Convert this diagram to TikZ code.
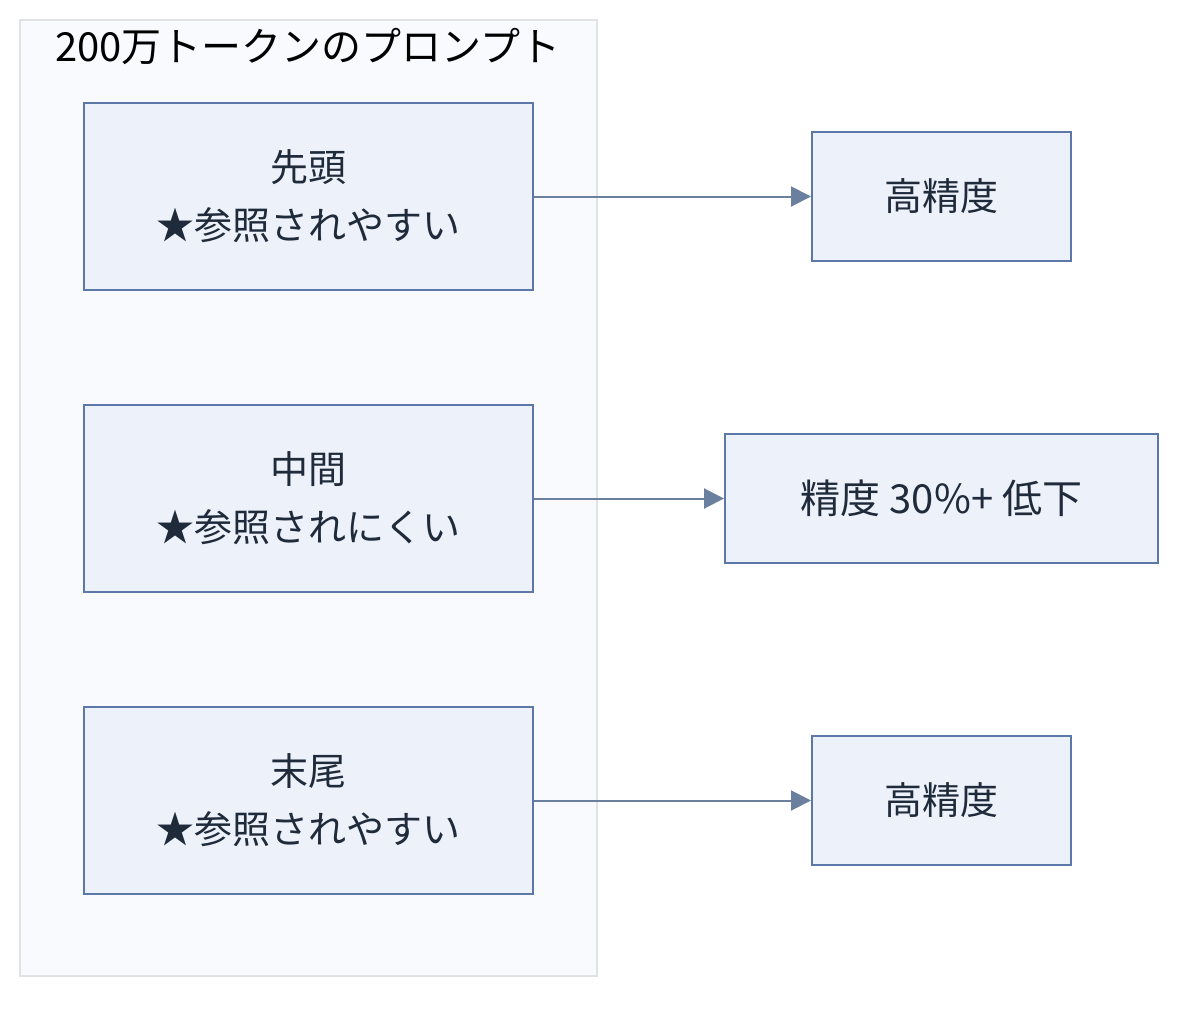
\documentclass[tikz,border=0pt]{standalone}
\usepackage{fontspec}
\setmainfont{Noto Sans CJK JP}
\usetikzlibrary{positioning,arrows.meta}

\definecolor{boxfill}{HTML}{EDF2FA}
\definecolor{boxline}{HTML}{5B78A8}
\definecolor{arrowline}{HTML}{6B7F9E}
\definecolor{clusterfill}{HTML}{F8FAFD}
\definecolor{clusterline}{HTML}{E0E2E6}
\definecolor{textdark}{HTML}{1F2A3A}

\tikzset{
  part/.style={draw=boxline, fill=boxfill, line width=1pt, align=center,
    minimum width=224.5pt, minimum height=93.5pt, text=textdark,
    font=\fontsize{19}{29}\selectfont, inner sep=0pt},
  result/.style={draw=boxline, fill=boxfill, line width=1pt,
    minimum width=129.5pt, minimum height=64.5pt, text=textdark,
    font=\fontsize{19}{24}\selectfont, inner sep=0pt},
  link/.style={draw=arrowline, line width=1pt, -{Triangle[length=10pt,width=10pt]}},
}

\begin{document}
\begin{tikzpicture}[x=0.5pt, y=-0.5pt, node distance=56.5pt]
  \useasboundingbox (0,0) rectangle (1200,1013);
  % prompt cluster
  \draw[fill=clusterfill, draw=clusterline, line width=1pt] (20,20) rectangle (597,976);
  \node[font=\fontsize{20}{24}\selectfont] (title) at (308,47) {200万トークンのプロンプト};

  \node[part] (head) at (308.5,196.5) {先頭\\★参照されやすい};
  \node[part, below=of head] (middle) {中間\\★参照されにくい};
  \node[part, below=of middle] (tail) {末尾\\★参照されやすい};

  \node[result, right=138.5pt of head] (acc1) {高精度};
  \node[result, minimum width=216.5pt, font=\fontsize{20}{24}\selectfont] (drop) at (acc1 |- middle) {精度 30\%+ 低下};
  \node[result] (acc2) at (acc1 |- tail) {高精度};

  \draw[link] (head) -- (acc1);
  \draw[link] (middle) -- (drop);
  \draw[link] (tail) -- (acc2);
\end{tikzpicture}
\end{document}
